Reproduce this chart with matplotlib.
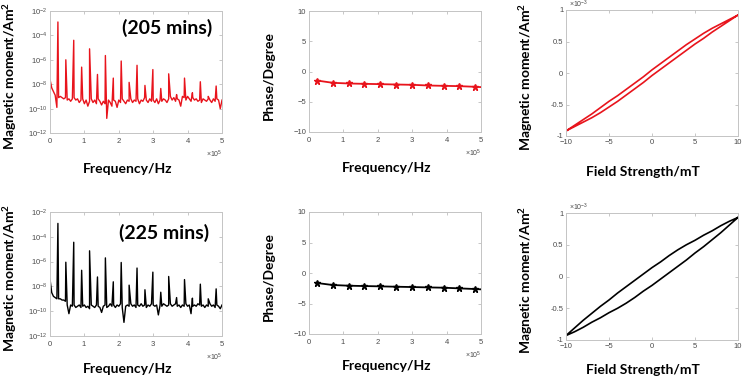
import matplotlib
matplotlib.use('Agg')
import matplotlib.pyplot as plt
from matplotlib.ticker import NullLocator, FuncFormatter
import numpy as np

plt.rcParams['font.family'] = 'Liberation Sans'
plt.rcParams['mathtext.fontset'] = 'custom'
plt.rcParams['mathtext.rm'] = 'Liberation Sans'
plt.rcParams['mathtext.bf'] = 'Lato:bold'

W, H = 743, 376
RED = '#e8141c'

# ---- spectrum data (log10 of moment) ----
f0 = 23.0e3  # drive frequency, Hz
harm = np.arange(1, 22)
noise_f = np.arange(0, 501, 5) * 1e3

peaks_205 = [-2.9, -6.0, -4.4, -6.6, -5.1, -7.2, -5.65, -7.5, -6.1, -7.85, -6.45,
             -8.1, -6.8, -8.35, -7.15, -8.85, -7.5, -8.7, -7.8, -9.0, -8.15]
peaks_225 = [-2.92, -6.05, -4.44, -6.7, -5.13, -7.24, -5.7, -7.63, -6.07, -7.9, -6.52,
             -8.27, -6.85, -8.47, -7.2, -8.9, -7.45, -8.95, -7.82, -9.0, -8.2]

noise_205 = [-7.6, -8.3, -8.6, -8.9, -9.9, -9.1, -9.0, -9.1, -9.2, -9.1,
             -9.3, -9.2, -9.4, -9.2, -9.1, -9.3, -9.2, -9.5, -9.3, -9.2,
             -9.6, -9.3, -9.8, -9.4, -9.2, -9.5, -9.3, -9.6, -9.2, -9.4,
             -9.7, -9.4, -9.6, -10.8, -9.3, -9.5, -9.8, -9.3, -9.4, -9.9,
             -9.3, -9.5, -9.2, -9.4, -9.6, -9.3, -9.4, -9.2, -9.5, -9.3,
             -9.4, -9.2, -9.6, -9.3, -9.4, -9.1, -9.3, -9.5, -9.2, -9.4,
             -9.3, -9.5, -9.2, -9.6, -9.3, -9.4, -9.2, -9.3, -9.5, -9.2,
             -9.0, -9.3, -9.1, -9.4, -9.2, -9.3, -9.8, -9.0, -9.1, -9.3,
             -9.0, -9.2, -9.4, -9.1, -9.3, -9.2, -9.4, -9.3, -9.5, -9.2,
             -9.3, -9.4, -9.2, -9.3, -9.5, -9.2, -9.4, -9.2, -9.3, -10.0,
             -9.3]
noise_225 = [-7.4, -8.5, -8.8, -8.9, -9.0, -9.0, -9.0, -9.1, -9.1, -9.2,
             -9.5, -10.2, -9.5, -9.6, -9.5, -9.7, -9.6, -9.5, -9.7, -9.6,
             -9.5, -9.7, -9.6, -9.8, -9.5, -9.6, -9.7, -9.5, -9.6, -9.7,
             -10.1, -9.6, -9.5, -9.7, -9.6, -9.4, -9.6, -9.5, -9.7, -9.5,
             -9.6, -9.4, -9.7, -10.9, -9.6, -9.5, -9.6, -9.4, -9.6, -9.5,
             -9.7, -9.5, -9.6, -9.4, -9.6, -9.5, -9.7, -9.5, -9.6, -9.4,
             -9.5, -9.6, -9.5, -10.3, -9.5, -9.6, -9.4, -9.5, -9.6, -9.5,
             -9.4, -9.6, -9.5, -9.4, -9.6, -9.5, -9.7, -9.5, -9.6, -9.4,
             -9.6, -9.5, -10.2, -9.6, -9.5, -9.6, -9.4, -9.5, -9.6, -9.5,
             -9.7, -9.5, -9.6, -9.4, -9.6, -9.5, -9.7, -9.5, -9.6, -9.8,
             -9.5]

# ---- phase data (degree) at odd harmonics, plus end of line at 5e5 ----
phase_f = np.append(np.arange(1, 22, 2) * f0, 5e5)
phase_205 = [-1.49, -1.87, -1.98, -2.04, -2.09, -2.15, -2.2, -2.31, -2.37, -2.42, -2.53, -2.58]
phase_225 = [-1.64, -1.97, -2.08, -2.14, -2.19, -2.25, -2.3, -2.36, -2.41, -2.52, -2.63, -2.68]

# ---- hysteresis loops (x10^-3 Am^2) ----
field = np.arange(-10, 11, 1)
up_205 = [-0.92, -0.83, -0.74, -0.65, -0.55, -0.45, -0.36, -0.26, -0.16, -0.06, 0.05,
          0.15, 0.25, 0.35, 0.45, 0.54, 0.63, 0.71, 0.78, 0.85, 0.92]
low_205 = [-0.92, -0.85, -0.78, -0.71, -0.63, -0.54, -0.45, -0.35, -0.25, -0.15, -0.04,
           0.06, 0.16, 0.26, 0.36, 0.46, 0.55, 0.65, 0.74, 0.83, 0.92]
up_225 = [-0.93, -0.81, -0.69, -0.58, -0.47, -0.37, -0.26, -0.16, -0.06, 0.04, 0.14,
          0.23, 0.33, 0.42, 0.50, 0.57, 0.65, 0.72, 0.80, 0.87, 0.93]
low_225 = [-0.93, -0.87, -0.80, -0.72, -0.65, -0.57, -0.50, -0.42, -0.33, -0.23, -0.14,
           -0.04, 0.06, 0.16, 0.26, 0.37, 0.47, 0.58, 0.69, 0.81, 0.93]

labels = ['(205 mins)', '(225 mins)']
colors = [RED, 'black']
TICK_C = '#4a4a4a'


def add_ax(fig, l, t, r, b):
    return fig.add_axes([l / W, 1 - b / H, (r - l) / W, (b - t) / H])


def style(ax):
    for s in ax.spines.values():
        s.set_color('#c4c4c4')
        s.set_linewidth(0.7)
    ax.tick_params(direction='in', length=2, width=0.5, color='#b0b0b0',
                   labelsize=5.5, labelcolor=TICK_C, pad=2,
                   top=True, right=True)


def sci_x(ax):
    ax.ticklabel_format(axis='x', style='sci', scilimits=(0, 0), useMathText=True)
    ax.xaxis.get_offset_text().set_fontsize(5)
    ax.xaxis.get_offset_text().set_color(TICK_C)


def bold_label(ax, xl, yl, ycoord):
    ax.set_xlabel(xl, fontfamily='Lato', fontweight='bold', fontsize=10)
    ax.xaxis.set_label_coords(0.45, ycoord)
    ax.xaxis.label.set_va('center')
    ax.set_ylabel(yl, fontfamily='Lato', fontweight='bold', fontsize=10)
    ax.yaxis.set_label_coords(-0.235, 0.47)
    ax.yaxis.label.set_va('center')


fig = plt.figure(figsize=(W / 100, H / 100), dpi=100)

rows = [(11, 133, 10, 136), (212, 336, 213, 340)]
spec_peaks = [peaks_205, peaks_225]
spec_noise = [noise_205, noise_225]
phases = [phase_205, phase_225]
loops = [(up_205, low_205), (up_225, low_225)]
txt_pos = [(0.683, 0.865), (0.663, 0.83)]

for i in range(2):
    top, bot, htop, hbot = rows[i]
    c = colors[i]
    ylab_c = -(36 if i == 0 else 33) / (bot - top)

    # spectrum
    ax = add_ax(fig, 50, top, 222, bot)
    f_all = np.concatenate([noise_f, harm * f0])
    m_all = np.concatenate([spec_noise[i], spec_peaks[i]])
    order = np.argsort(f_all, kind='stable')
    ax.plot(f_all[order], 10.0 ** m_all[order], color=c, lw=1.0)
    ax.set_yscale('log')
    ax.set_ylim(1e-12, 1e-2)
    ax.set_yticks([1e-12, 1e-10, 1e-8, 1e-6, 1e-4, 1e-2])
    ax.yaxis.set_minor_locator(NullLocator())
    ax.set_xlim(0, 5e5)
    ax.set_xticks(np.arange(0, 6) * 1e5)
    sci_x(ax)
    style(ax)
    bold_label(ax, 'Frequency/Hz', r'Magnetic moment/Am$^\mathbf{2}$', ylab_c)
    ax.text(txt_pos[i][0], txt_pos[i][1], labels[i], transform=ax.transAxes,
            ha='center', va='center', fontfamily='Lato', fontweight='bold', fontsize=14)

    # phase
    ax = add_ax(fig, 309, top, 481, bot - (1 if i == 0 else 2))
    ax.plot(phase_f, phases[i], color=c, lw=1.3, marker='*', ms=5,
            markevery=list(range(11)))
    ax.set_xlim(0, 5e5)
    ax.set_ylim(-10, 10)
    ax.set_xticks(np.arange(0, 6) * 1e5)
    ax.set_yticks([-10, -5, 0, 5, 10])
    sci_x(ax)
    style(ax)
    bold_label(ax, 'Frequency/Hz', 'Phase/Degree', ylab_c)

    # hysteresis
    ax = add_ax(fig, 566, htop, 738, hbot)
    up, low = loops[i]
    xs = np.concatenate([field[::-1], field])
    ys = np.concatenate([np.array(up)[::-1], np.array(low)]) * 1e-3
    ax.plot(xs, ys, color=c, lw=1.2)
    ax.set_xlim(-10, 10)
    ax.set_ylim(-1e-3, 1e-3)
    ax.set_xticks([-10, -5, 0, 5, 10])
    ax.set_yticks([-1e-3, -0.5e-3, 0, 0.5e-3, 1e-3])
    ax.yaxis.set_major_formatter(FuncFormatter(lambda v, _: '%g' % round(v * 1e3, 3)))
    ax.text(0.02, 1.0, r'$\times10^{-3}$', transform=ax.transAxes, ha='left',
            va='bottom', fontsize=5, color=TICK_C)
    style(ax)
    bold_label(ax, 'Field Strength/mT', r'Magnetic moment/Am$^\mathbf{2}$',
               -(36 if i == 0 else 30) / (hbot - htop))

fig.savefig('out.png', dpi=100)
